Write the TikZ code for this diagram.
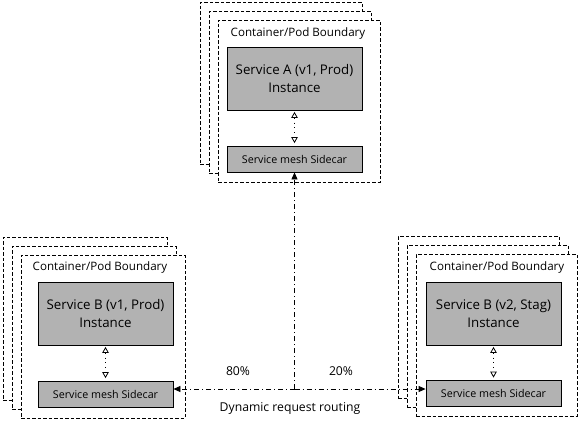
\documentclass[tikz,border=0pt]{standalone}
\usepackage{fontspec}
\setmainfont{Open Sans}
\usetikzlibrary{arrows.meta}
\definecolor{boxgray}{RGB}{178,178,178}
\begin{document}
\begin{tikzpicture}[x=1pt,y=-1pt,
  podbox/.style={draw,fill=white,rectangle,inner sep=0pt,line width=0.8pt,dash pattern=on 3.5pt off 2pt},
  svcbox/.style={draw,fill=boxgray,rectangle,inner sep=0pt,minimum width=135pt,minimum height=63pt,align=center,font=\fontsize{13.3}{18}\selectfont,line width=0.8pt},
  carbox/.style={draw,fill=boxgray,rectangle,inner sep=0pt,minimum width=135pt,minimum height=26pt,font=\fontsize{10.7}{12}\selectfont,line width=0.8pt},
  podtitle/.style={font=\fontsize{11.6}{13}\selectfont,inner sep=0pt},
  innerlink/.style={line width=0.8pt,dash pattern=on 0.8pt off 4pt,shorten <=1.5pt,shorten >=2.5pt,
    {Triangle[open,length=6pt,width=6.5pt]}-{Triangle[open,length=6pt,width=6.5pt]}},
  route/.style={line width=0.8pt,dash pattern=on 5pt off 3pt on 1pt off 3pt,-{Triangle[length=7pt,width=6pt]}},
  lbl/.style={font=\fontsize{12.2}{14}\selectfont,inner sep=0pt}
]
\useasboundingbox (0,0) rectangle (580,421);
% top group
\node[podbox,minimum width=162pt,minimum height=162pt] (a3) at (281,83) {};
\node[podbox,minimum width=162pt,minimum height=162pt] (a2) at (290,92) {};
\node[podbox,minimum width=162pt,minimum height=162pt] (a1) at (299,101) {};
\node[podtitle] (ta) at (298,33) {Container/Pod Boundary};
\node[svcbox] (sa) at (294.5,78.5) {Service A (v1, Prod)\\Instance};
\node[carbox] (ca) at (294.5,159) {Service mesh Sidecar};
\draw[innerlink] (sa.south) -- (ca.north);
% left group
\node[podbox,minimum width=164pt,minimum height=163pt] (b3) at (85,318.5) {};
\node[podbox,minimum width=164pt,minimum height=163pt] (b2) at (94,327.5) {};
\node[podbox,minimum width=164pt,minimum height=163pt] (b1) at (103,336.5) {};
\node[podtitle] (tb) at (100,267) {Container/Pod Boundary};
\node[svcbox] (sb) at (105.5,313.5) {Service B (v1, Prod)\\Instance};
\node[carbox] (cb) at (105.5,394) {Service mesh Sidecar};
\draw[innerlink] (sb.south) -- (cb.north);
% right group
\node[podbox,minimum width=161pt,minimum height=162pt] (c3) at (478.5,317) {};
\node[podbox,minimum width=161pt,minimum height=162pt] (c2) at (487.5,326) {};
\node[podbox,minimum width=161pt,minimum height=162pt] (c1) at (496.5,335) {};
\node[podtitle] (tc) at (497,267) {Container/Pod Boundary};
\node[svcbox] (sc) at (493.5,313.5) {Service B (v2, Stag)\\Instance};
\node[carbox] (cc) at (493.5,393.5) {Service mesh Sidecar};
\draw[innerlink] (sc.south) -- (cc.north);
% routing
\coordinate (j) at (294.5,389);
\draw[route] (j) -- (ca.south);
\draw[route] (j) -- (cb.east |- j);
\draw[route] (j) -- (cc.west |- j);
\node[lbl] (p80) at (238,371) {80\%};
\node[lbl] (p20) at (341,371) {20\%};
\node[lbl] (dr) at (290,408) {Dynamic request routing};
\end{tikzpicture}
\end{document}
